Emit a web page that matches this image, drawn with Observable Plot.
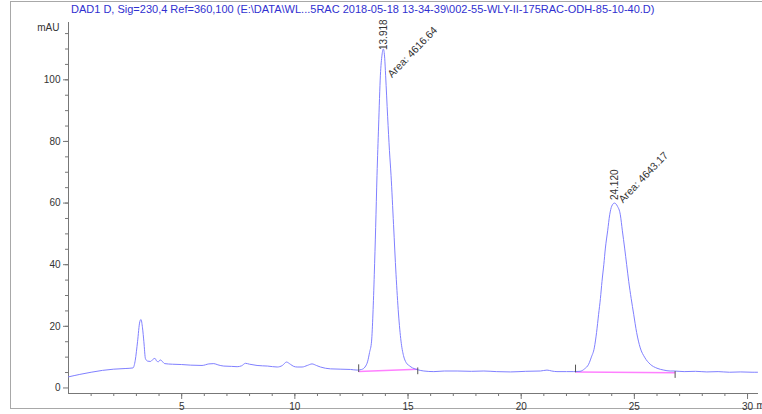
<!DOCTYPE html>
<html>
<head>
<meta charset="utf-8">
<script src="https://cdn.jsdelivr.net/npm/d3@7"></script>
<script src="https://cdn.jsdelivr.net/npm/@observablehq/plot@0.6"></script>
<style>
  html, body { margin: 0; padding: 0; background: #fff; overflow: hidden; }
  #wrap { position: relative; width: 762px; height: 414px; font-family: "Liberation Sans", Arial, sans-serif; }
  #border { position: absolute; left: 10px; top: 1px; width: 760px; height: 408px; border: 1px solid #a8a8a8; border-right: none; box-sizing: border-box; }
  #title { position: absolute; left: 71px; top: 3px; font-size: 11px; color: #3030d0; white-space: nowrap; }
  #chart { position: absolute; left: 0; top: 0; }
</style>
</head>
<body>
<div id="wrap">
  <div id="border"></div>
  <div id="chart"></div>
  <div id="title">DAD1 D, Sig=230,4 Ref=360,100 (E:\DATA\WL...5RAC 2018-05-18 13-34-39\002-55-WLY-II-175RAC-ODH-85-10-40.D)</div>
</div>
<script>
// Retention time (min) and absorbance (mAU)
const times = [0.00,0.5,1.0,1.5,2.0,2.5,2.85,2.95,3.05,3.15,3.2,3.27,3.33,3.4,3.5,3.62,3.75,3.82,3.9,3.97,4.05,4.12,4.25,4.6,5.0,5.4,5.9,6.2,6.42,6.6,6.86,7.2,7.45,7.65,7.82,8.0,8.33,8.8,9.22,9.45,9.63,9.8,9.95,10.1,10.32,10.55,10.76,10.95,11.13,11.57,12.0,12.46,12.75,12.95,13.1,13.22,13.3,13.39,13.45,13.51,13.57,13.63,13.7,13.78,13.85,13.91,13.97,14.01,14.1,14.18,14.25,14.36,14.47,14.58,14.69,14.8,14.92,15.06,15.2,15.43,15.7,16.14,16.6,17.17,17.8,18.35,18.9,19.52,20.2,20.85,21.14,21.35,21.58,22.0,22.32,22.6,22.8,22.98,23.1,23.23,23.33,23.42,23.5,23.57,23.65,23.72,23.82,23.91,24.0,24.12,24.25,24.38,24.47,24.57,24.66,24.75,24.86,24.97,25.1,25.26,25.45,25.7,26.0,26.3,26.58,26.75,27.2,27.7,28.2,28.7,29.2,29.7,30.2,30.44];
const signal = [3.6,4.4,5.1,5.7,6.1,6.3,6.5,9,15,21.5,22.2,19.5,15,9.5,8.7,8.6,9.4,9.6,8.7,8.5,9.1,8.8,7.9,7.7,7.6,7.4,7.3,7.8,7.9,7.5,7.1,7.0,6.9,7.2,8.0,7.7,7.3,7.1,6.8,7.3,8.4,7.7,7.0,6.8,6.8,7.3,7.8,7.3,6.8,6.2,6.1,6.0,5.8,6.0,6.8,8.7,11.5,15.2,24,36.9,52,69,85,101.5,108,110,107,101.5,88,77,69,53,36.9,24,15.2,10.5,8.2,7.2,6.5,5.9,5.5,5.3,5.5,5.5,5.4,5.5,5.3,5.2,5.4,5.5,5.8,5.5,5.3,5.3,5.3,5.4,6.2,7.7,10,13.0,18,23.9,29,34.6,40,45.4,51,56.2,59,60,59,56.2,51,45.4,40,34.6,29,23.9,18,13.0,10,7.7,6.4,5.8,5.5,5.5,5.3,5.4,5.2,5.3,5.1,5.2,5.1,5.1];

// Integration baselines: start/end time and level of each peak
const baseStartT = [12.82, 22.40];
const baseStartV = [5.3, 5.2];
const baseEndT = [15.43, 26.80];
const baseEndV = [6.1, 4.9];

// Peak annotations
const peakTimes = [13.918, 24.120];
const peakHeights = [110, 60];
const peakRTLabels = ["13.918", "24.120"];
const peakAreaLabels = ["Area: 4616.64", "Area: 4643.17"];

// Axis ticks
const xMajorTicks = [5, 10, 15, 20, 25, 30];
const xMinorTicks = [1,2,3,4,5,6,7,8,9,10,11,12,13,14,15,16,17,18,19,20,21,22,23,24,25,26,27,28,29,30];
const yMajorTicks = [0, 20, 40, 60, 80, 100];
const yMinorTicks = [5,10,15,20,25,30,35,40,45,50,55,60,65,70,75,80,85,90,95,100,105,110,115];
const yUnit = "mAU";
const xUnit = "min";

const trace = times.map((t, i) => ({t, v: signal[i]}));
const baselines = baseStartT.map((t, i) => ({t1: t, v1: baseStartV[i], t2: baseEndT[i], v2: baseEndV[i]}));
const peaks = peakTimes.map((t, i) => ({t, h: peakHeights[i], rt: peakRTLabels[i], area: peakAreaLabels[i]}));

const axisColor = "#777";
const textColor = "#333";

const chart = Plot.plot({
  width: 762,
  height: 414,
  marginLeft: 68,
  marginRight: 5,
  marginTop: 22,
  marginBottom: 21,
  x: {domain: [0, 30.44]},
  y: {domain: [-1.8, 118.6]},
  style: {fontFamily: "'Liberation Sans', Arial, sans-serif", fontSize: "10px", color: textColor, background: "transparent", overflow: "visible"},
  marks: [
    Plot.axisY({ticks: yMajorTicks, tickSize: 5, tickPadding: 3, label: null, stroke: axisColor, fill: textColor}),
    Plot.axisY({ticks: yMinorTicks, tickSize: 3, text: null, label: null, stroke: axisColor}),
    Plot.axisX({ticks: xMajorTicks, tickSize: 6, tickPadding: 3, label: null, stroke: axisColor, fill: textColor}),
    Plot.axisX({ticks: xMinorTicks, tickSize: 3, text: null, label: null, stroke: axisColor}),
    Plot.frame({anchor: "left", stroke: axisColor}),
    Plot.frame({anchor: "bottom", stroke: axisColor}),
    Plot.text([yUnit], {frameAnchor: "top-left", dx: -9, dy: 1, textAnchor: "end", fill: textColor, fontSize: 10}),
    Plot.text([xUnit], {x: () => 30, frameAnchor: "bottom", dx: 9, dy: 15, textAnchor: "start", fill: textColor, fontSize: 10}),
    Plot.link(baselines, {x1: "t1", y1: "v1", x2: "t2", y2: "v2", stroke: "#ff80ff", strokeWidth: 1.5}),
    Plot.line(trace, {x: "t", y: "v", stroke: "#8080ff", strokeWidth: 1, curve: "monotone-x"}),
    Plot.ruleX(baselines, {x: "t1", y1: d => d.v1 - 0.3, y2: d => d.v1 + 2.2, stroke: "#555", strokeWidth: 1}),
    Plot.ruleX(baselines, {x: "t2", y1: d => d.v2 - 1.8, y2: d => d.v2 + 0.4, stroke: "#555", strokeWidth: 1}),
    Plot.text(peaks.slice(0, 1), {x: "t", y: "h", text: "rt", rotate: -90, textAnchor: "start", dy: 1, fill: textColor, fontSize: 10}),
    Plot.text(peaks.slice(1), {x: "t", y: "h", text: "rt", rotate: -90, textAnchor: "start", dy: -3, fill: textColor, fontSize: 10}),
    Plot.text(peaks.slice(0, 1), {x: "t", y: "h", text: "area", rotate: -46, textAnchor: "start", dx: 6, dy: 27, fill: textColor, fontSize: 10.5}),
    Plot.text(peaks.slice(1), {x: "t", y: "h", text: "area", rotate: -46, textAnchor: "start", dx: 6, dy: -2, fill: textColor, fontSize: 10.5})
  ]
});
document.getElementById("chart").appendChild(chart);
</script>
</body>
</html>
